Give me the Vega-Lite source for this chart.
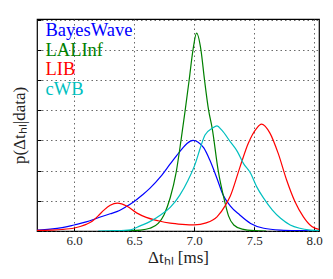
{
  "$schema": "https://vega.github.io/schema/vega-lite/v6.json",
  "width": 282,
  "height": 212,
  "autosize": "none",
  "padding": {"left": 37, "top": 19, "right": 14, "bottom": 48},
  "background": "white",
  "config": {
    "view": {"stroke": "#000", "strokeWidth": 1.2},
    "axis": {
      "labelFont": "Liberation Serif",
      "labelFontSize": 13,
      "labelColor": "#222",
      "titleFont": "Liberation Serif",
      "titleFontWeight": "normal",
      "titleFontSize": 17,
      "titleColor": "#222",
      "domain": false,
      "tickColor": "#000",
      "gridColor": "#444",
      "gridDash": [1.5, 3],
      "gridWidth": 0.8
    }
  },
  "data": {
    "values": [
      {"s": "BayesWave", "x": 5.69, "y": 0.03},
      {"s": "BayesWave", "x": 5.8, "y": 0.06},
      {"s": "BayesWave", "x": 5.9, "y": 0.11},
      {"s": "BayesWave", "x": 6.0, "y": 0.2},
      {"s": "BayesWave", "x": 6.1, "y": 0.3},
      {"s": "BayesWave", "x": 6.2, "y": 0.44},
      {"s": "BayesWave", "x": 6.3, "y": 0.57},
      {"s": "BayesWave", "x": 6.36, "y": 0.65},
      {"s": "BayesWave", "x": 6.43, "y": 0.8},
      {"s": "BayesWave", "x": 6.5, "y": 0.98},
      {"s": "BayesWave", "x": 6.57, "y": 1.2},
      {"s": "BayesWave", "x": 6.63, "y": 1.41},
      {"s": "BayesWave", "x": 6.72, "y": 1.8},
      {"s": "BayesWave", "x": 6.8, "y": 2.22},
      {"s": "BayesWave", "x": 6.88, "y": 2.63},
      {"s": "BayesWave", "x": 6.94, "y": 2.9},
      {"s": "BayesWave", "x": 6.99, "y": 3.0},
      {"s": "BayesWave", "x": 7.03, "y": 2.95},
      {"s": "BayesWave", "x": 7.08, "y": 2.75},
      {"s": "BayesWave", "x": 7.13, "y": 2.35},
      {"s": "BayesWave", "x": 7.19, "y": 1.74},
      {"s": "BayesWave", "x": 7.24, "y": 1.2},
      {"s": "BayesWave", "x": 7.3, "y": 0.83},
      {"s": "BayesWave", "x": 7.38, "y": 0.53},
      {"s": "BayesWave", "x": 7.47, "y": 0.25},
      {"s": "BayesWave", "x": 7.58, "y": 0.09},
      {"s": "BayesWave", "x": 7.72, "y": 0.03},
      {"s": "BayesWave", "x": 7.9, "y": 0.01},
      {"s": "BayesWave", "x": 8.04, "y": 0.0},
      {"s": "LALInf", "x": 6.3, "y": 0.0},
      {"s": "LALInf", "x": 6.45, "y": 0.01},
      {"s": "LALInf", "x": 6.55, "y": 0.03},
      {"s": "LALInf", "x": 6.63, "y": 0.09},
      {"s": "LALInf", "x": 6.7, "y": 0.25},
      {"s": "LALInf", "x": 6.75, "y": 0.55},
      {"s": "LALInf", "x": 6.8, "y": 1.1},
      {"s": "LALInf", "x": 6.85, "y": 1.95},
      {"s": "LALInf", "x": 6.89, "y": 3.0},
      {"s": "LALInf", "x": 6.925, "y": 4.0},
      {"s": "LALInf", "x": 6.958, "y": 5.0},
      {"s": "LALInf", "x": 6.99, "y": 6.0},
      {"s": "LALInf", "x": 7.02, "y": 6.55},
      {"s": "LALInf", "x": 7.056, "y": 6.0},
      {"s": "LALInf", "x": 7.086, "y": 5.0},
      {"s": "LALInf", "x": 7.12, "y": 4.0},
      {"s": "LALInf", "x": 7.15, "y": 3.4},
      {"s": "LALInf", "x": 7.2, "y": 2.0},
      {"s": "LALInf", "x": 7.253, "y": 1.0},
      {"s": "LALInf", "x": 7.286, "y": 0.5},
      {"s": "LALInf", "x": 7.33, "y": 0.2},
      {"s": "LALInf", "x": 7.4, "y": 0.06},
      {"s": "LALInf", "x": 7.5, "y": 0.01},
      {"s": "LALInf", "x": 7.6, "y": 0.0},
      {"s": "LIB", "x": 5.69, "y": 0.02},
      {"s": "LIB", "x": 5.8, "y": 0.03},
      {"s": "LIB", "x": 5.9, "y": 0.05},
      {"s": "LIB", "x": 6.0, "y": 0.1},
      {"s": "LIB", "x": 6.05, "y": 0.15},
      {"s": "LIB", "x": 6.1, "y": 0.22},
      {"s": "LIB", "x": 6.15, "y": 0.32},
      {"s": "LIB", "x": 6.2, "y": 0.5},
      {"s": "LIB", "x": 6.25, "y": 0.7},
      {"s": "LIB", "x": 6.3, "y": 0.85},
      {"s": "LIB", "x": 6.36, "y": 0.92},
      {"s": "LIB", "x": 6.44, "y": 0.82},
      {"s": "LIB", "x": 6.52, "y": 0.6},
      {"s": "LIB", "x": 6.6, "y": 0.45},
      {"s": "LIB", "x": 6.7, "y": 0.34},
      {"s": "LIB", "x": 6.8, "y": 0.26},
      {"s": "LIB", "x": 6.9, "y": 0.22},
      {"s": "LIB", "x": 7.0, "y": 0.2},
      {"s": "LIB", "x": 7.1, "y": 0.27},
      {"s": "LIB", "x": 7.19, "y": 0.47},
      {"s": "LIB", "x": 7.26, "y": 0.85},
      {"s": "LIB", "x": 7.3, "y": 1.15},
      {"s": "LIB", "x": 7.38, "y": 2.1},
      {"s": "LIB", "x": 7.45, "y": 2.9},
      {"s": "LIB", "x": 7.52, "y": 3.4},
      {"s": "LIB", "x": 7.56, "y": 3.54},
      {"s": "LIB", "x": 7.63, "y": 3.25},
      {"s": "LIB", "x": 7.7, "y": 2.57},
      {"s": "LIB", "x": 7.77, "y": 1.69},
      {"s": "LIB", "x": 7.84, "y": 0.97},
      {"s": "LIB", "x": 7.91, "y": 0.47},
      {"s": "LIB", "x": 7.98, "y": 0.15},
      {"s": "LIB", "x": 8.04, "y": 0.05},
      {"s": "cWB", "x": 6.2, "y": 0.0},
      {"s": "cWB", "x": 6.35, "y": 0.01},
      {"s": "cWB", "x": 6.47, "y": 0.04},
      {"s": "cWB", "x": 6.55, "y": 0.17},
      {"s": "cWB", "x": 6.63, "y": 0.31},
      {"s": "cWB", "x": 6.72, "y": 0.53},
      {"s": "cWB", "x": 6.8, "y": 0.78},
      {"s": "cWB", "x": 6.88, "y": 1.19},
      {"s": "cWB", "x": 6.95, "y": 1.69},
      {"s": "cWB", "x": 7.01, "y": 2.24},
      {"s": "cWB", "x": 7.05, "y": 2.74},
      {"s": "cWB", "x": 7.09, "y": 3.18},
      {"s": "cWB", "x": 7.15, "y": 3.4},
      {"s": "cWB", "x": 7.19, "y": 3.48},
      {"s": "cWB", "x": 7.23, "y": 3.34},
      {"s": "cWB", "x": 7.3, "y": 2.96},
      {"s": "cWB", "x": 7.36, "y": 2.63},
      {"s": "cWB", "x": 7.41, "y": 2.24},
      {"s": "cWB", "x": 7.47, "y": 1.91},
      {"s": "cWB", "x": 7.52, "y": 1.47},
      {"s": "cWB", "x": 7.58, "y": 1.08},
      {"s": "cWB", "x": 7.65, "y": 0.7},
      {"s": "cWB", "x": 7.72, "y": 0.42},
      {"s": "cWB", "x": 7.8, "y": 0.2},
      {"s": "cWB", "x": 7.88, "y": 0.09},
      {"s": "cWB", "x": 7.97, "y": 0.03},
      {"s": "cWB", "x": 8.04, "y": 0.01}
    ]
  },
  "mark": {"type": "line", "strokeWidth": 1.2, "interpolate": "monotone", "clip": true},
  "encoding": {
    "x": {
      "field": "x", "type": "quantitative",
      "scale": {"domain": [5.69, 8.04], "nice": false, "zero": false},
      "axis": {"values": [6.0, 6.5, 7.0, 7.5, 8.0], "format": ".1f", "title": "Δtₕₗ [ms]", "tickSize": -4, "labelPadding": 7, "titlePadding": 2}
    },
    "y": {
      "field": "y", "type": "quantitative",
      "scale": {"domain": [0, 7.02], "nice": false},
      "axis": {"values": [0, 1, 2, 3, 4, 5, 6, 7], "labels": false, "title": "p(Δtₕₗ|data)", "tickSize": -4, "titlePadding": 8}
    },
    "color": {
      "field": "s", "type": "nominal",
      "scale": {"domain": ["BayesWave", "LALInf", "LIB", "cWB"], "range": ["#0000ff", "#008000", "#ff0000", "#00bfbf"]},
      "legend": {
        "title": null,
        "orient": "none",
        "legendX": -10,
        "legendY": 2,
        "padding": 0,
        "symbolSize": 0,
        "symbolStrokeWidth": 0,
        "symbolOpacity": 0,
        "labelOffset": 0,
        "labelFont": "Liberation Serif",
        "labelFontSize": 18.5,
        "rowPadding": 0.5,
        "encode": {"labels": {"update": {"fill": {"scale": "color", "field": "value"}}}}
      }
    }
  }
}
